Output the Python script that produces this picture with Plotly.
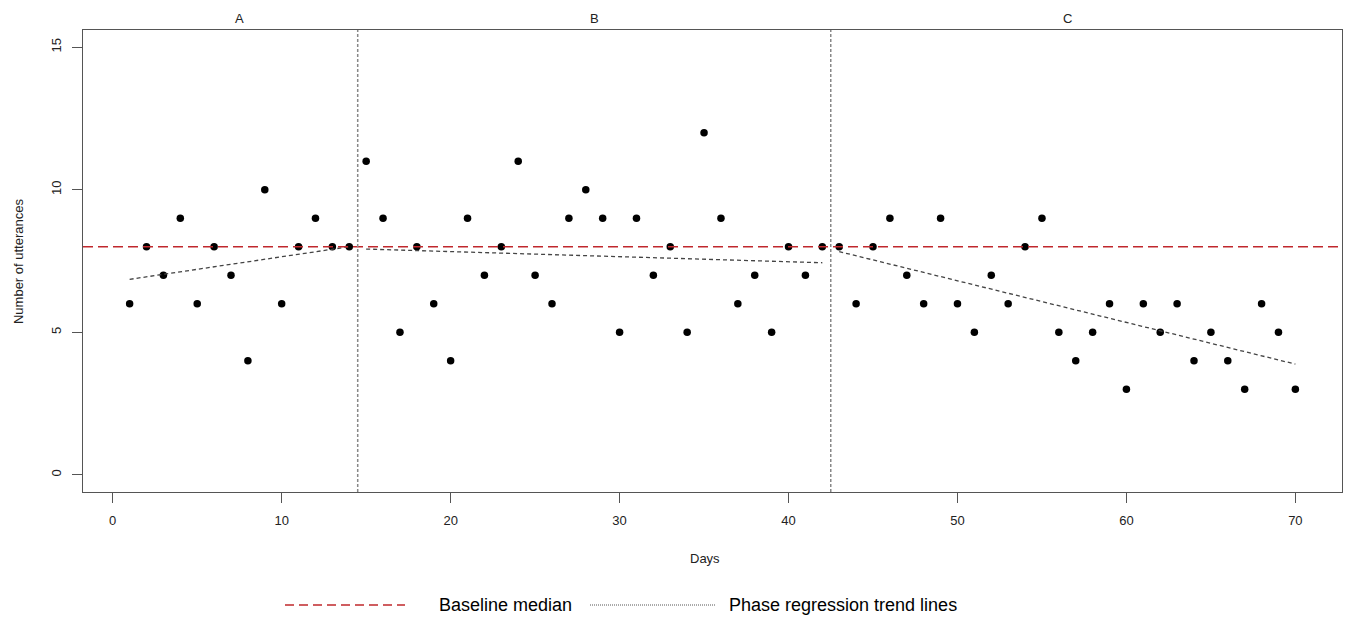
import numpy as np
import plotly.graph_objects as go

# Daily utterance counts, split by phase
days_a = list(range(1, 15))
vals_a = [6, 8, 7, 9, 6, 8, 7, 4, 10, 6, 8, 9, 8, 8]

days_b = list(range(15, 43))
vals_b = [11, 9, 5, 8, 6, 4, 9, 7, 8, 11, 7, 6, 9, 10, 9, 5, 9, 7, 8, 5,
          12, 9, 6, 7, 5, 8, 7, 8]

days_c = list(range(43, 71))
vals_c = [8, 6, 8, 9, 7, 6, 9, 6, 5, 7, 6, 8, 9, 5, 4, 5, 6, 3, 6, 5,
          6, 4, 5, 4, 3, 6, 5, 3]

phase_names = ["A", "B", "C"]
phase_breaks = [14.5, 42.5]
x_ticks = [0, 10, 20, 30, 40, 50, 60, 70]
y_ticks = [0, 5, 10, 15]

phases = [(days_a, vals_a), (days_b, vals_b), (days_c, vals_c)]
all_days = days_a + days_b + days_c
all_vals = vals_a + vals_b + vals_c
baseline_median = float(np.median(vals_a))

FONT = "Liberation Sans, Arial, sans-serif"
AXIS_COLOR = "#555555"

fig = go.Figure()

# observations
fig.add_trace(go.Scatter(
    x=all_days, y=all_vals, mode="markers",
    marker=dict(color="black", size=7.5, line=dict(width=0)),
    showlegend=False, hoverinfo="x+y",
))

# least-squares trend line within each phase
for d, v in phases:
    slope, intercept = np.polyfit(d, v, 1)
    xs = [d[0], d[-1]]
    fig.add_trace(go.Scatter(
        x=xs, y=[intercept + slope * xx for xx in xs], mode="lines",
        line=dict(color="#444444", width=1.3, dash="4px,3px"),
        showlegend=False, hoverinfo="skip",
    ))

# baseline median across the whole panel
fig.add_shape(type="line", xref="x domain", yref="y",
              x0=0, x1=1, y0=baseline_median, y1=baseline_median,
              line=dict(color="#c0282d", width=1.5, dash="10px,5px"))

# phase change lines
for b in phase_breaks:
    fig.add_shape(type="line", xref="x", yref="y domain",
                  x0=b, x1=b, y0=0, y1=1,
                  line=dict(color="#888888", width=1.5, dash="3px,2px"))

# phase labels above the panel
for name, (d, v) in zip(phase_names, phases):
    fig.add_annotation(x=(d[0] + d[-1]) / 2, y=1.0, xref="x", yref="paper",
                       text=name, showarrow=False, yanchor="bottom", yshift=2,
                       font=dict(family=FONT, size=13, color="#222222"))

# axis titles
fig.add_annotation(x=0.494, y=-0.143, xref="paper", yref="paper", text="Days",
                   showarrow=False, xanchor="center", yanchor="middle",
                   font=dict(family=FONT, size=13, color="#222222"))
fig.add_annotation(x=-0.0516, y=0.5, xref="paper", yref="paper",
                   text="Number of utterances", textangle=-90,
                   showarrow=False, xanchor="center", yanchor="middle",
                   font=dict(family=FONT, size=13, color="#222222"))

# legend drawn below the panel
leg_y = -0.2446
fig.add_shape(type="line", xref="paper", yref="paper",
              x0=(285 - 83) / 1259, x1=(405 - 83) / 1259, y0=leg_y, y1=leg_y,
              line=dict(color="#c0282d", width=1.5, dash="9px,5px"))
fig.add_annotation(x=(437 - 83) / 1259, y=leg_y, xref="paper", yref="paper",
                   text="Baseline median", showarrow=False,
                   xanchor="left", yanchor="middle",
                   font=dict(family=FONT, size=18, color="black"))
fig.add_shape(type="line", xref="paper", yref="paper",
              x0=(590 - 83) / 1259, x1=(715 - 83) / 1259, y0=leg_y, y1=leg_y,
              line=dict(color="#555555", width=1, dash="1px,1px"))
fig.add_annotation(x=(727 - 83) / 1259, y=leg_y, xref="paper", yref="paper",
                   text="Phase regression trend lines", showarrow=False,
                   xanchor="left", yanchor="middle",
                   font=dict(family=FONT, size=18, color="black"))

axis_common = dict(
    showgrid=False, zeroline=False,
    showline=True, linecolor=AXIS_COLOR, linewidth=1, mirror=True,
    ticks="outside", ticklen=10, tickcolor=AXIS_COLOR, tickwidth=1,
    tickfont=dict(family=FONT, size=13, color="#222222"),
)

fig.update_xaxes(range=[-1.76, 72.76], tickvals=x_ticks,
                 ticklabelstandoff=6, **axis_common)
fig.update_yaxes(range=[-0.6, 15.6], tickvals=y_ticks, tickangle=-90,
                 ticklabelstandoff=6, **axis_common)

fig.update_layout(
    width=1347, height=617,
    margin=dict(l=83, r=5, t=30, b=125),
    paper_bgcolor="white", plot_bgcolor="white",
    showlegend=False,
    font=dict(family=FONT),
)

fig.write_html("out.html")
